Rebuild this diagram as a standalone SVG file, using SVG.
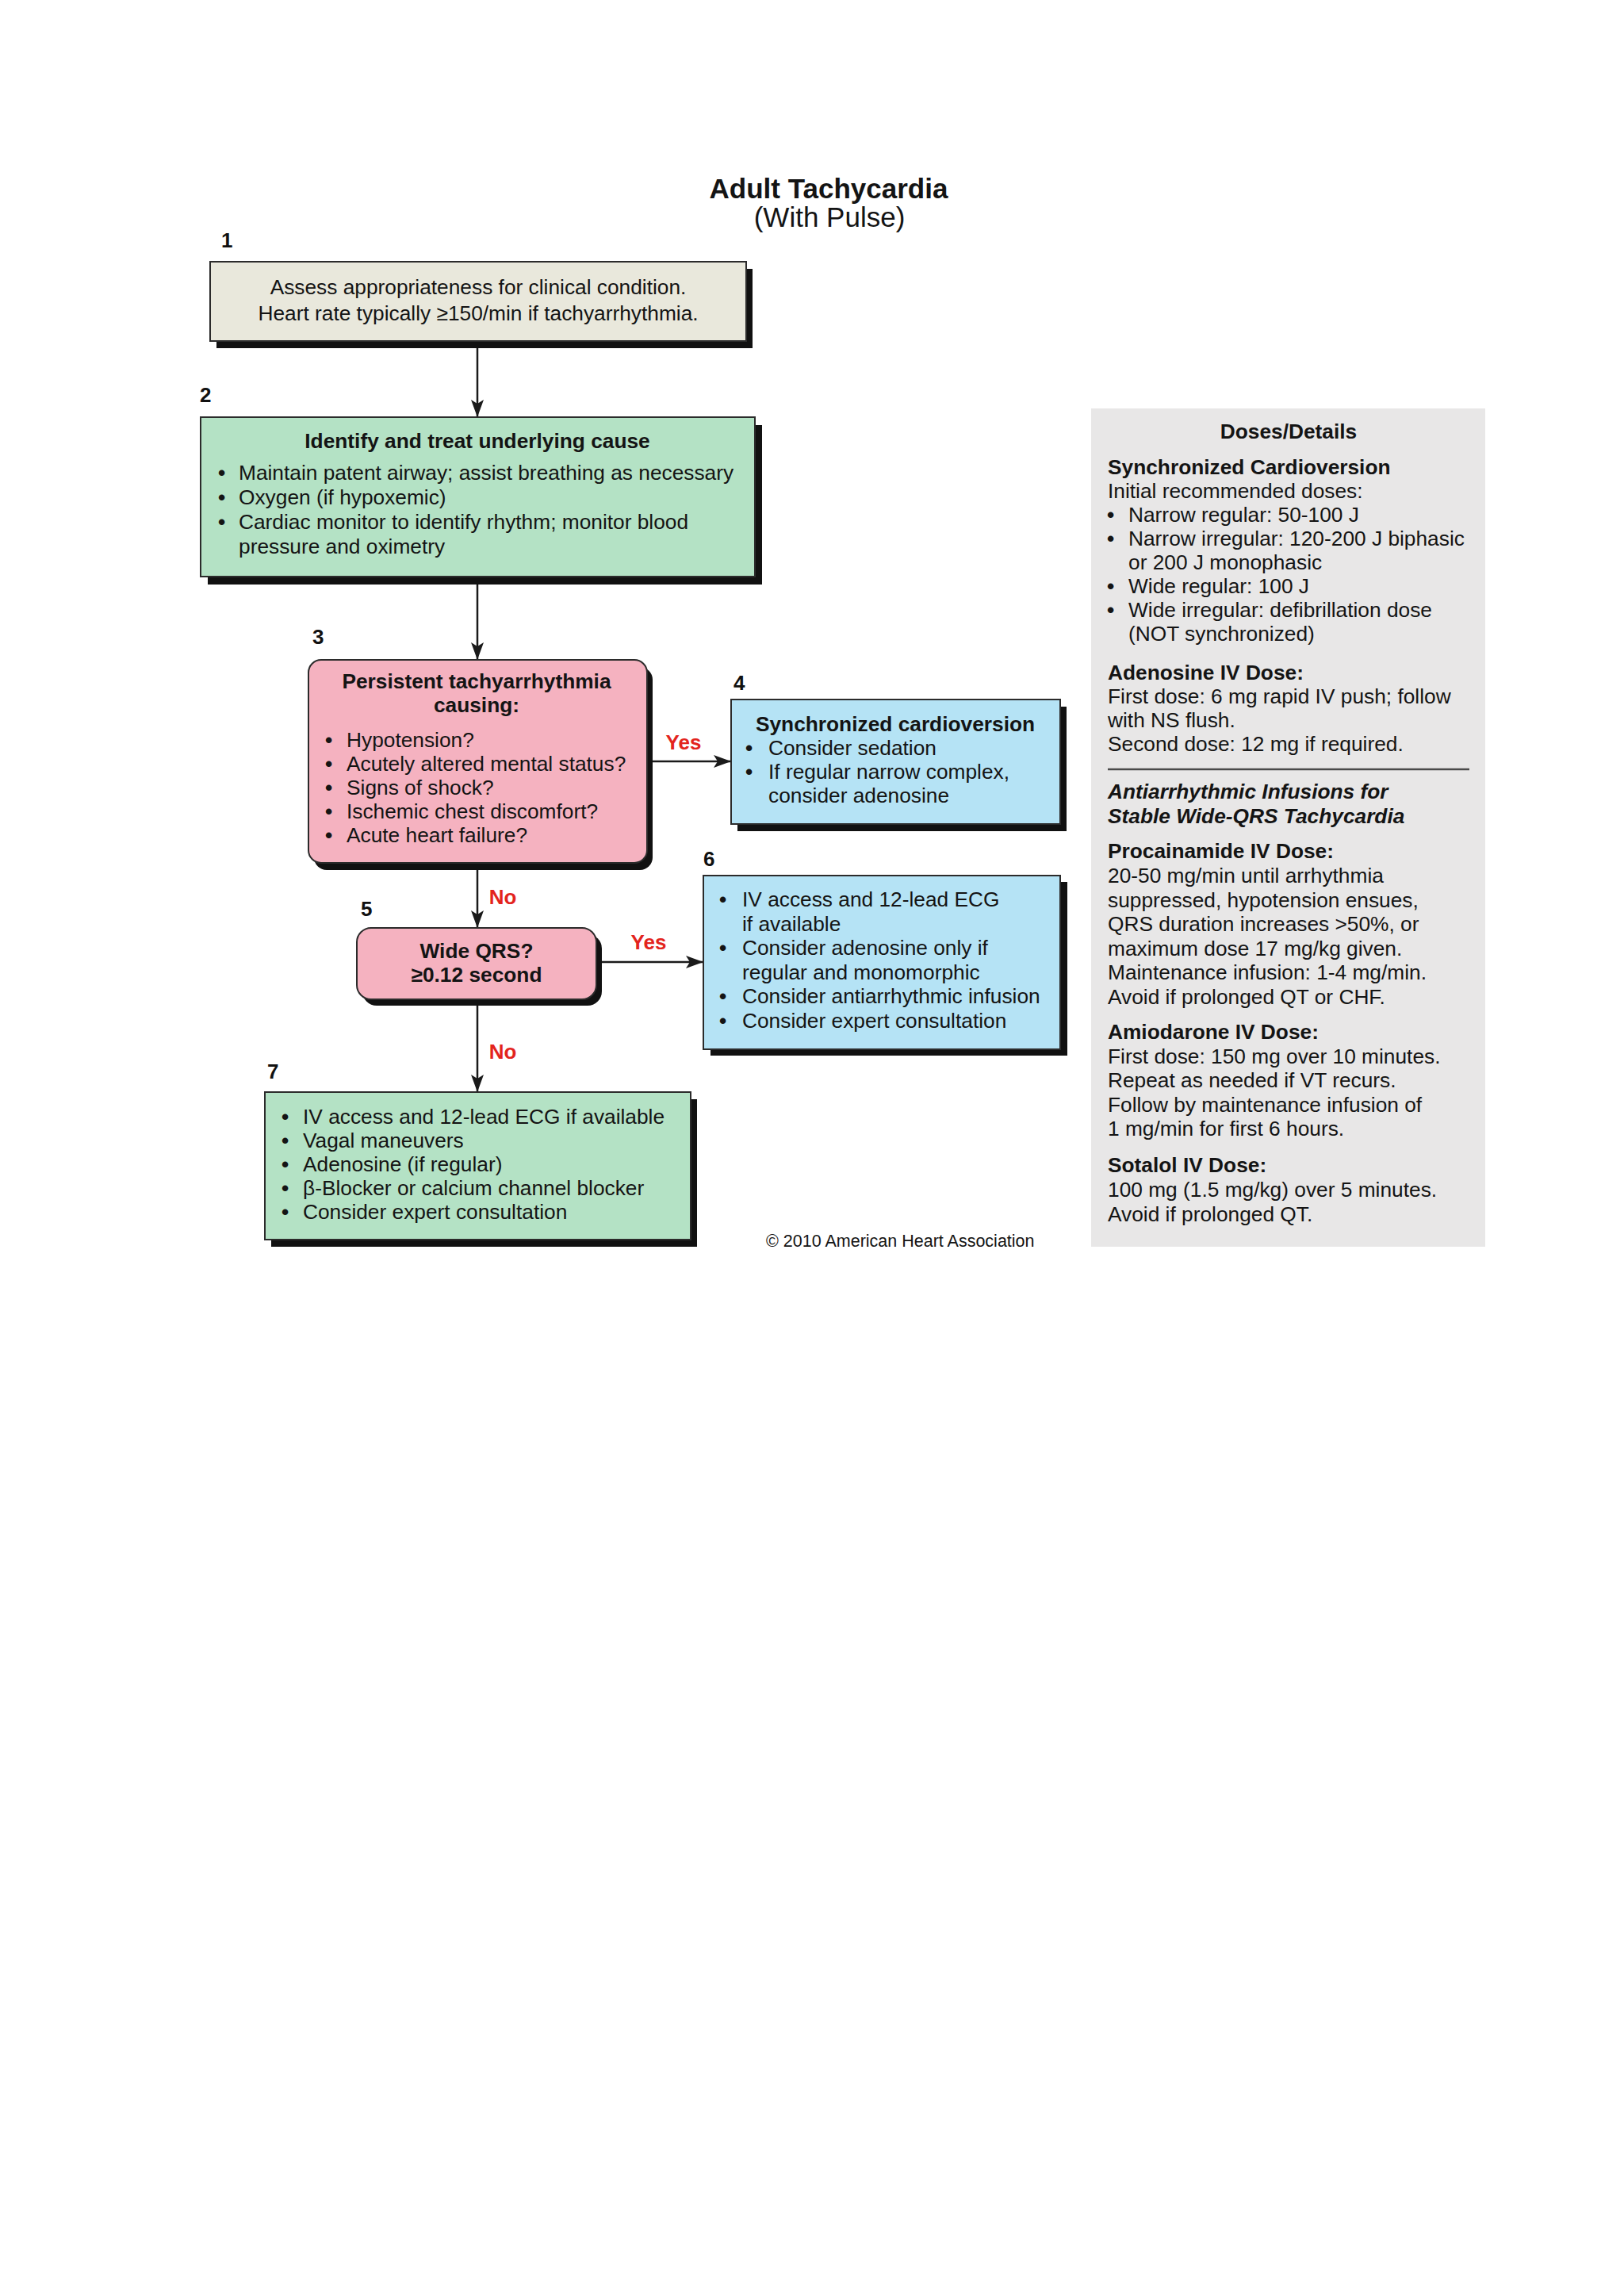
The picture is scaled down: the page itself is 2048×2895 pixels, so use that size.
<svg xmlns="http://www.w3.org/2000/svg" width="2048" height="2895" viewBox="0 0 2048 2895">
<style>
.t{font-family:"Liberation Sans",Arial,Helvetica,sans-serif;font-size:26.3px;fill:#141414}
.b{font-weight:bold}
.i{font-style:italic}
.c{text-anchor:middle}
.bu{font-weight:bold}
.n{font-family:"Liberation Sans",Arial,sans-serif;font-size:26px;font-weight:bold;fill:#111}
.r{font-family:"Liberation Sans",Arial,sans-serif;font-size:26px;font-weight:bold;fill:#e3241d;text-anchor:middle}
.sh{fill:#111}
.bx{stroke:#2b2b2b;stroke-width:2}
.beige{fill:#e9e8dc}
.green{fill:#b4e2c5}
.pink{fill:#f5b2c0}
.blue{fill:#b5e3f5}
.con{stroke:#1a1a1a;stroke-width:2.5;fill:none}
</style>
<defs>
<marker id="ah" viewBox="0 0 22 16" refX="22" refY="8" markerWidth="22" markerHeight="16" markerUnits="userSpaceOnUse" orient="auto">
<path d="M0,0 L22,8 L0,16 L5,8 Z" fill="#1a1a1a"/>
</marker>
</defs>
<rect x="0" y="0" width="2048" height="2895" fill="#ffffff"/>

<g id="title">
<text class="t b c" x="1045" y="250" style="font-size:35px">Adult Tachycardia</text>
<text class="t c" x="1046" y="286" style="font-size:35px">(With Pulse)</text>
</g>

<g id="connectors">
<line class="con" x1="602" y1="432" x2="602" y2="526" marker-end="url(#ah)"/>
<line class="con" x1="602" y1="729" x2="602" y2="832" marker-end="url(#ah)"/>
<line class="con" x1="818" y1="960" x2="922" y2="960" marker-end="url(#ah)"/>
<line class="con" x1="602" y1="1090" x2="602" y2="1170" marker-end="url(#ah)"/>
<line class="con" x1="754" y1="1213" x2="887" y2="1213" marker-end="url(#ah)"/>
<line class="con" x1="602" y1="1262" x2="602" y2="1377" marker-end="url(#ah)"/>
<text class="r" x="862" y="945">Yes</text>
<text class="r" x="634" y="1140">No</text>
<text class="r" x="818" y="1197">Yes</text>
<text class="r" x="634" y="1335">No</text>
</g>

<g id="node1">
<text class="n" x="279" y="312">1</text>
<rect class="sh" x="273" y="339" width="676" height="100"/>
<rect class="bx beige" x="265" y="330" width="676" height="100"/>
<text class="t c" x="603" y="371">Assess appropriateness for clinical condition.</text>
<text class="t c" x="603" y="404">Heart rate typically ≥150/min if tachyarrhythmia.</text>
</g>

<g id="node2">
<text class="n" x="252" y="507">2</text>
<rect class="sh" x="262" y="536" width="699" height="201"/>
<rect class="bx green" x="253" y="526" width="699" height="201"/>
<text class="t b c" x="602" y="565">Identify and treat underlying cause</text>
<text class="t" x="275" y="605"><tspan class="bu">•</tspan><tspan x="301">Maintain patent airway; assist breathing as necessary</tspan></text>
<text class="t" x="275" y="636"><tspan class="bu">•</tspan><tspan x="301">Oxygen (if hypoxemic)</tspan></text>
<text class="t" x="275" y="667"><tspan class="bu">•</tspan><tspan x="301">Cardiac monitor to identify rhythm; monitor blood</tspan></text>
<text class="t" x="301" y="698">pressure and oximetry</text>
</g>

<g id="node3">
<text class="n" x="394" y="812">3</text>
<rect class="sh" x="396" y="841" width="427" height="256" rx="16"/>
<rect class="bx pink" x="389" y="832" width="427" height="256" rx="16"/>
<text class="t b c" x="601" y="868">Persistent tachyarrhythmia</text>
<text class="t b c" x="601" y="898">causing:</text>
<text class="t" x="410" y="942"><tspan class="bu">•</tspan><tspan x="437">Hypotension?</tspan></text>
<text class="t" x="410" y="972"><tspan class="bu">•</tspan><tspan x="437">Acutely altered mental status?</tspan></text>
<text class="t" x="410" y="1002"><tspan class="bu">•</tspan><tspan x="437">Signs of shock?</tspan></text>
<text class="t" x="410" y="1032"><tspan class="bu">•</tspan><tspan x="437">Ischemic chest discomfort?</tspan></text>
<text class="t" x="410" y="1062"><tspan class="bu">•</tspan><tspan x="437">Acute heart failure?</tspan></text>
</g>

<g id="node4">
<text class="n" x="925" y="870">4</text>
<rect class="sh" x="930" y="891" width="415" height="157"/>
<rect class="bx blue" x="922" y="882" width="415" height="157"/>
<text class="t b c" x="1129" y="922">Synchronized cardioversion</text>
<text class="t" x="940" y="952"><tspan class="bu">•</tspan><tspan x="969">Consider sedation</tspan></text>
<text class="t" x="940" y="982"><tspan class="bu">•</tspan><tspan x="969">If regular narrow complex,</tspan></text>
<text class="t" x="969" y="1012">consider adenosine</text>
</g>

<g id="node5">
<text class="n" x="455" y="1155">5</text>
<rect class="sh" x="457" y="1178" width="302" height="90" rx="18"/>
<rect class="bx pink" x="450" y="1170" width="302" height="90" rx="18"/>
<text class="t b c" x="601" y="1208">Wide QRS?</text>
<text class="t b c" x="601" y="1238">≥0.12 second</text>
</g>

<g id="node6">
<text class="n" x="887" y="1092">6</text>
<rect class="sh" x="896" y="1112" width="450" height="219"/>
<rect class="bx blue" x="887" y="1104" width="450" height="219"/>
<text class="t" x="907" y="1143"><tspan class="bu">•</tspan><tspan x="936">IV access and 12-lead ECG</tspan></text>
<text class="t" x="936" y="1174">if available</text>
<text class="t" x="907" y="1204"><tspan class="bu">•</tspan><tspan x="936">Consider adenosine only if</tspan></text>
<text class="t" x="936" y="1235">regular and monomorphic</text>
<text class="t" x="907" y="1265"><tspan class="bu">•</tspan><tspan x="936">Consider antiarrhythmic infusion</tspan></text>
<text class="t" x="907" y="1296"><tspan class="bu">•</tspan><tspan x="936">Consider expert consultation</tspan></text>
</g>

<g id="node7">
<text class="n" x="337" y="1360">7</text>
<rect class="sh" x="342" y="1386" width="537" height="186"/>
<rect class="bx green" x="334" y="1377" width="537" height="186"/>
<text class="t" x="355" y="1417"><tspan class="bu">•</tspan><tspan x="382">IV access and 12-lead ECG if available</tspan></text>
<text class="t" x="355" y="1447"><tspan class="bu">•</tspan><tspan x="382">Vagal maneuvers</tspan></text>
<text class="t" x="355" y="1477"><tspan class="bu">•</tspan><tspan x="382">Adenosine (if regular)</tspan></text>
<text class="t" x="355" y="1507"><tspan class="bu">•</tspan><tspan x="382">β-Blocker or calcium channel blocker</tspan></text>
<text class="t" x="355" y="1537"><tspan class="bu">•</tspan><tspan x="382">Consider expert consultation</tspan></text>
</g>

<g id="copyright">
<text class="t" x="966" y="1572" style="font-size:21.5px">© 2010 American Heart Association</text>
</g>

<g id="doses">
<rect x="1376" y="515" width="497" height="1057" fill="#e8e7e7"/>
<text class="t b c" x="1625" y="553">Doses/Details</text>
<text class="t b" x="1397" y="598">Synchronized Cardioversion</text>
<text class="t" x="1397" y="628">Initial recommended doses:</text>
<text class="t" x="1396" y="658"><tspan class="bu">•</tspan><tspan x="1423">Narrow regular: 50-100 J</tspan></text>
<text class="t" x="1396" y="688"><tspan class="bu">•</tspan><tspan x="1423">Narrow irregular: 120-200 J biphasic</tspan></text>
<text class="t" x="1423" y="718">or 200 J monophasic</text>
<text class="t" x="1396" y="748"><tspan class="bu">•</tspan><tspan x="1423">Wide regular: 100 J</tspan></text>
<text class="t" x="1396" y="778"><tspan class="bu">•</tspan><tspan x="1423">Wide irregular: defibrillation dose</tspan></text>
<text class="t" x="1423" y="808">(NOT synchronized)</text>
<text class="t b" x="1397" y="857">Adenosine IV Dose:</text>
<text class="t" x="1397" y="887">First dose: 6 mg rapid IV push; follow</text>
<text class="t" x="1397" y="917">with NS flush.</text>
<text class="t" x="1397" y="947">Second dose: 12 mg if required.</text>
<line x1="1397" y1="970" x2="1853" y2="970" stroke="#4a4a4a" stroke-width="2.5"/>
<text class="t b i" x="1397" y="1007">Antiarrhythmic Infusions for</text>
<text class="t b i" x="1397" y="1038">Stable Wide-QRS Tachycardia</text>
<text class="t b" x="1397" y="1082">Procainamide IV Dose:</text>
<text class="t" x="1397" y="1113">20-50 mg/min until arrhythmia</text>
<text class="t" x="1397" y="1144">suppressed, hypotension ensues,</text>
<text class="t" x="1397" y="1174">QRS duration increases &gt;50%, or</text>
<text class="t" x="1397" y="1205">maximum dose 17 mg/kg given.</text>
<text class="t" x="1397" y="1235">Maintenance infusion: 1-4 mg/min.</text>
<text class="t" x="1397" y="1266">Avoid if prolonged QT or CHF.</text>
<text class="t b" x="1397" y="1310">Amiodarone IV Dose:</text>
<text class="t" x="1397" y="1341">First dose: 150 mg over 10 minutes.</text>
<text class="t" x="1397" y="1371">Repeat as needed if VT recurs.</text>
<text class="t" x="1397" y="1402">Follow by maintenance infusion of</text>
<text class="t" x="1397" y="1432">1 mg/min for first 6 hours.</text>
<text class="t b" x="1397" y="1478">Sotalol IV Dose:</text>
<text class="t" x="1397" y="1509">100 mg (1.5 mg/kg) over 5 minutes.</text>
<text class="t" x="1397" y="1540">Avoid if prolonged QT.</text>
</g>
</svg>
